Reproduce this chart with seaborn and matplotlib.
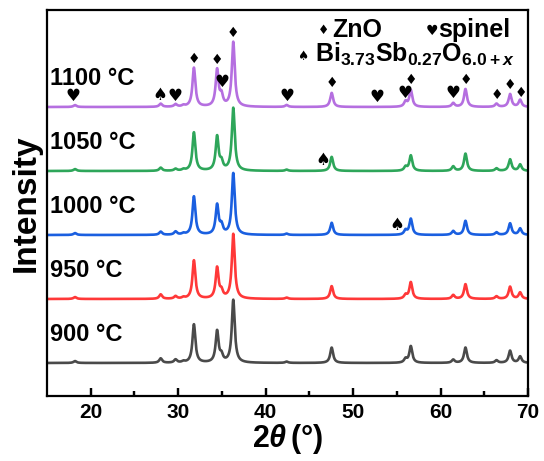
import numpy as np
import pandas as pd
import matplotlib
matplotlib.use("Agg")
import matplotlib.pyplot as plt
import seaborn as sns

# ---------------- data ----------------
temperatures = ["900 °C", "950 °C", "1000 °C", "1050 °C", "1100 °C"]
offsets = [0, 1, 2, 3, 4]
colors = ["#4a4a4a", "#ff3838", "#1a5fe0", "#2ea65a", "#b56fe0"]

# peak positions (2theta, deg) and per-sample heights (relative units)
peak_pos = [18.2, 28.0, 29.7, 30.6, 31.8, 34.45, 34.95, 36.3, 42.4,
            47.55, 56.0, 56.6, 61.45, 62.85, 66.4, 67.95, 69.1]
h_900 = [0.03, 0.07, 0.05, 0.02, 0.60, 0.49, 0.10, 0.98, 0.02,
         0.24, 0.06, 0.26, 0.05, 0.24, 0.04, 0.19, 0.10]
h_950 = [0.03, 0.07, 0.04, 0.02, 0.60, 0.48, 0.10, 1.01, 0.02,
         0.20, 0.06, 0.26, 0.06, 0.23, 0.04, 0.19, 0.10]
h_1000 = [0.03, 0.05, 0.05, 0.02, 0.60, 0.46, 0.13, 0.96, 0.02,
          0.19, 0.07, 0.25, 0.06, 0.22, 0.04, 0.18, 0.10]
h_1050 = [0.03, 0.05, 0.03, 0.02, 0.60, 0.53, 0.12, 0.98, 0.02,
          0.22, 0.06, 0.24, 0.07, 0.27, 0.04, 0.18, 0.10]
h_1100 = [0.03, 0.05, 0.04, 0.02, 0.61, 0.57, 0.16, 1.01, 0.03,
          0.22, 0.08, 0.26, 0.06, 0.28, 0.05, 0.20, 0.11]
heights = [h_900, h_950, h_1000, h_1050, h_1100]
peak_hwhm = 0.2

# phase markers (2theta, y in data units)
zno_x = [31.8, 34.45, 36.3, 47.6, 56.6, 62.9, 66.4, 67.9, 69.2]
zno_y = [4.75, 4.73, 5.16, 4.37, 4.42, 4.42, 4.19, 4.34, 4.22]
spinel_x = [18.0, 29.6, 35.0, 42.4, 52.7, 55.9, 61.4]
spinel_y = [4.17, 4.17, 4.39, 4.17, 4.16, 4.22, 4.22]
bso_x = [27.9, 46.5, 55.0]
bso_y = [4.19, 3.17, 2.16]

x_ticks = [20, 30, 40, 50, 60, 70]
x_minor = [25, 35, 45, 55, 65]

# ---------------- build curves ----------------
theta = np.arange(15.0, 70.0001, 0.02)
rows = []
for temp, off, hs in zip(temperatures, offsets, heights):
    y = np.full_like(theta, float(off))
    for p, h in zip(peak_pos, hs):
        y += h / (1.0 + ((theta - p) / peak_hwhm) ** 2)
    rows.append(pd.DataFrame({"2theta": theta, "I": y, "T": temp}))
df = pd.concat(rows, ignore_index=True)

# ---------------- plot ----------------
sns.set_theme(style="ticks")
plt.rcParams["font.family"] = ["Liberation Sans", "DejaVu Sans"]
plt.rcParams["font.weight"] = "bold"
plt.rcParams["text.color"] = "black"
plt.rcParams["axes.labelcolor"] = "black"
plt.rcParams["xtick.color"] = "black"
plt.rcParams["mathtext.fontset"] = "custom"
plt.rcParams["mathtext.bf"] = "Liberation Sans:bold"
plt.rcParams["mathtext.rm"] = "Liberation Sans:bold"
plt.rcParams["mathtext.it"] = "Liberation Sans:bold:italic"

fig = plt.figure(figsize=(5.44, 4.61), dpi=100)
ax = fig.add_axes([47 / 544, 65 / 461, 481 / 544, 386 / 461])

sns.lineplot(data=df, x="2theta", y="I", hue="T", palette=colors,
             hue_order=temperatures, estimator=None, sort=False,
             linewidth=1.9, legend=False, ax=ax)

ax.set_xlim(15, 70)
ax.set_ylim(-0.516, 5.516)
ax.set_yticks([])
ax.set_xticks(x_ticks)
ax.set_xticklabels([str(t) for t in x_ticks], fontsize=15, fontweight="bold",
                   color="black")
ax.set_xticks(x_minor, minor=True)
ax.tick_params(axis="x", which="major", direction="in", length=6, width=1.6,
               pad=5, colors="black", bottom=True, top=False)
ax.tick_params(axis="x", which="minor", direction="in", length=3.5, width=1.6,
               colors="black", bottom=True, top=False)
ax.tick_params(axis="y", left=False, right=False)
# explicit inward tick marks along the bottom spine (axes-fraction height)
xt = ax.get_xaxis_transform()
ax.vlines(x_ticks, 0, 0.021, colors="black", linewidth=1.6, transform=xt,
          zorder=6, clip_on=False)
ax.vlines(x_minor, 0, 0.012, colors="black", linewidth=1.6, transform=xt,
          zorder=6, clip_on=False)
for s in ax.spines.values():
    s.set_visible(True)
    s.set_color("black")
    s.set_linewidth(1.6)

ax.set_xlabel(r"$\mathbf{2}\mathit{\theta}\,\mathbf{(°)}$", fontsize=22,
              labelpad=0, color="black")
ax.set_ylabel("Intensity", fontsize=24, fontweight="bold", labelpad=4,
              color="black")

# temperature labels
for temp, off in zip(temperatures, offsets):
    ax.text(15.35, off + 0.45, temp, fontsize=17, fontweight="bold",
            ha="left", va="center", color="black")

# phase markers
for x, y in zip(zno_x, zno_y):
    ax.text(x, y, "\u2666", fontsize=10, ha="center", va="center",
            family="DejaVu Sans", color="black")
for x, y in zip(spinel_x, spinel_y):
    ax.text(x, y, "\u2665", fontsize=12, ha="center", va="center",
            family="DejaVu Sans", color="black")
for x, y in zip(bso_x, bso_y):
    ax.text(x, y, "\u2660", fontsize=12, ha="center", va="center",
            family="DejaVu Sans", color="black")

# legend-like annotations
tr = ax.transAxes
ax.text(0.574, 0.946, "\u2666", fontsize=9, ha="center", va="center",
        family="DejaVu Sans", transform=tr)
ax.text(0.594, 0.949, "ZnO", fontsize=18, fontweight="bold", ha="left",
        va="center", transform=tr)
ax.text(0.800, 0.946, "\u2665", fontsize=10, ha="center", va="center",
        family="DejaVu Sans", transform=tr)
ax.text(0.813, 0.949, "spinel", fontsize=18, fontweight="bold", ha="left",
        va="center", transform=tr)
ax.text(0.532, 0.880, "\u2660", fontsize=9, ha="center", va="center",
        family="DejaVu Sans", transform=tr)
ax.text(0.557, 0.886,
        r"$\mathbf{Bi}_{\mathbf{3.73}}\mathbf{Sb}_{\mathbf{0.27}}"
        r"\mathbf{O}_{\mathbf{6.0+}\mathit{x}}$",
        fontsize=18, ha="left", va="center", transform=tr)

fig.savefig("out.png", dpi=100)
